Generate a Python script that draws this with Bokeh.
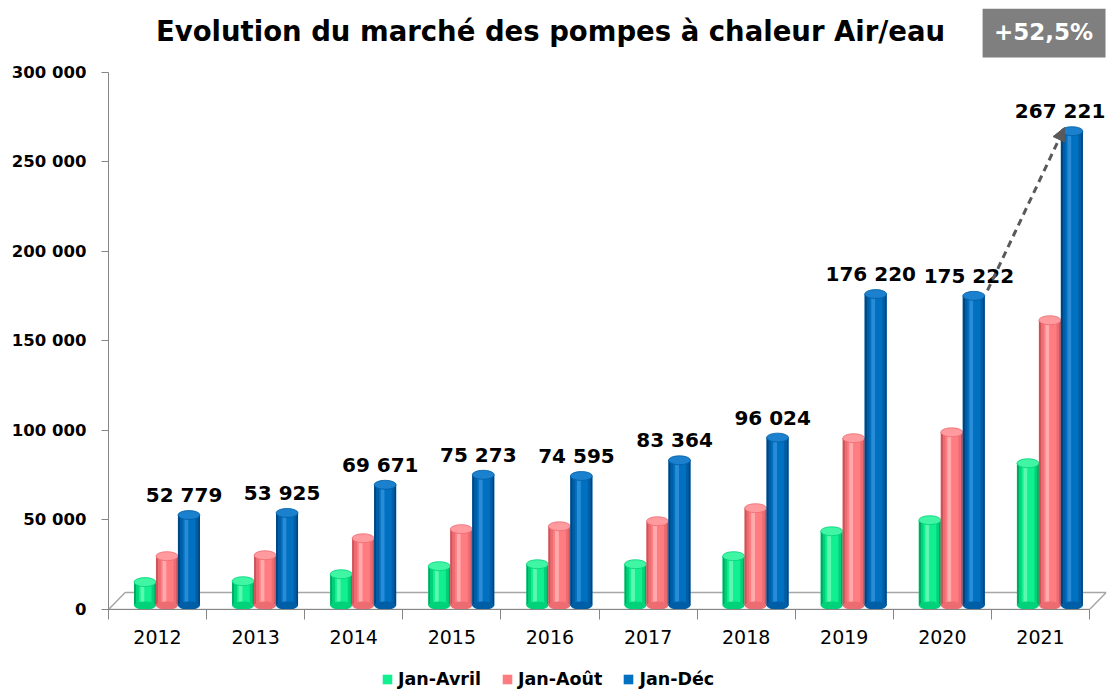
from bokeh.plotting import figure
from bokeh.layouts import column
from bokeh.models import (ColumnDataSource, FixedTicker, Range1d, Legend, LegendItem,
                          Arrow, NormalHead, Label)
from bokeh.transform import dodge
from bokeh.core.properties import value
from bokeh.embed import file_html
from bokeh.resources import INLINE

# ---------------- data ----------------
years = ["2012", "2013", "2014", "2015", "2016", "2017", "2018", "2019", "2020", "2021"]
jan_avril = [15300, 15800, 19700, 24200, 25300, 25300, 29800, 43700, 49900, 81700]
jan_aout = [29800, 30300, 39800, 44900, 46500, 49300, 56600, 95700, 99000, 161600]
jan_dec = [52779, 53925, 69671, 75273, 74595, 83364, 96024, 176220, 175222, 267221]
series_names = ["Jan-Avril", "Jan-Août", "Jan-Déc"]
y_ticks = [0, 50000, 100000, 150000, 200000, 250000, 300000]
title_text = "Evolution du marché des pompes à chaleur Air/eau"

def fmt(v):
    return f"{v:,}".replace(",", " ")

growth = jan_dec[-1] / jan_dec[-2] - 1
growth_text = ("+%.1f%%" % (growth * 100)).replace(".", ",")

# ---------------- styling ----------------
FONT = "DejaVu Sans"
bar_w = 0.224
offsets = [-0.128, 0.096, 0.32]
base = 2200
palettes = [
    # edge dark, mid, highlight, main, top
    ("#00a862", "#00d27a", "#5cf7b0", "#12ef90", "#40f5a4"),
    ("#c9545a", "#ec6c71", "#ffaaad", "#ff7c80", "#ff9a9e"),
    ("#00457f", "#005ea6", "#2a8bd6", "#0070c0", "#1b80cd"),
]
bands = [(0.0, 0.10, 0), (0.10, 0.22, 1), (0.22, 0.30, 3), (0.30, 0.48, 2),
         (0.48, 0.80, 3), (0.80, 0.92, 1), (0.92, 1.0, 0)]

n = len(years)
centers = [i + 0.5 for i in range(n)]

p = figure(frame_width=998, frame_height=601, min_border_left=108, min_border_right=8,
           min_border_top=8, min_border_bottom=50,
           x_range=Range1d(0, 10.173), y_range=Range1d(0, 335754),
           output_backend="svg", toolbar_location=None, title=None)
p.outline_line_color = None
p.grid.visible = False
p.background_fill_color = "white"

# floor
p.patch([0, 0.17, 10.17, 10], [0, 9500, 9500, 0], fill_color="white",
        line_color="#a6a6a6", line_width=1.5)

src = ColumnDataSource(dict(x=centers, avril=jan_avril, aout=jan_aout, dec=jan_dec,
                            base=[base] * n))
fields = ["avril", "aout", "dec"]
for k, field in enumerate(fields):
    edge, mid, hi, main, top = palettes[k]
    cols = [edge, mid, hi, main]
    p.vbar(x=dodge("x", offsets[k], range=p.x_range), top=field, bottom="base",
           width=bar_w, source=src, fill_color=main, line_color=None)
    for (a, b, ci) in bands:
        c = (a + b) / 2 - 0.5
        p.vbar(x=dodge("x", offsets[k] + c * bar_w, range=p.x_range), top=field,
               bottom="base", width=(b - a) * bar_w, source=src,
               fill_color=cols[ci], line_color=None)
    p.ellipse(x=dodge("x", offsets[k], range=p.x_range), y="base", width=bar_w,
              height=8, height_units="screen", source=src, fill_color=mid,
              line_color=None)
    p.ellipse(x=dodge("x", offsets[k], range=p.x_range), y=field, width=bar_w,
              height=9, height_units="screen", source=src, fill_color=top,
              line_color=mid, line_width=0.8)

# value labels above the Jan-Déc bars
label_x = [c + offsets[2] - 0.05 for c in centers]
label_x[-1] -= 0.07  # keep the last label inside the frame
lbl_src = ColumnDataSource(dict(x=label_x, y=jan_dec, t=[fmt(v) for v in jan_dec]))
p.text(x="x", y="y", text="t", source=lbl_src, text_font=value(FONT),
       text_font_style="bold", text_font_size="20px", text_align="center",
       text_baseline="bottom", y_offset=-8, text_color="black")

# dashed growth arrow from 2020 to 2021
p.add_layout(Arrow(end=NormalHead(size=13, fill_color="#595959", line_color="#595959"),
                   x_start=centers[8] + offsets[2] + 0.14, y_start=jan_dec[8] + 3000,
                   x_end=centers[9] + offsets[2] - 0.075, y_end=jan_dec[9] + 2000,
                   line_color="#595959", line_width=3, line_dash="7 5"))

# growth box
p.quad(left=8.91, right=10.163, bottom=308400, top=335754, fill_color="#7f7f7f",
       line_color=None)
p.add_layout(Label(x=9.531, y=322900, text=growth_text, text_font=FONT,
                   text_font_style="bold", text_font_size="23px", text_color="white",
                   text_align="center", text_baseline="middle"))

# title
p.add_layout(Label(x=4.506, y=323400, text=title_text, text_font=FONT,
                   text_font_style="bold", text_font_size="27.5px", text_color="black",
                   text_align="center", text_baseline="middle"))

# y axis
yax = p.yaxis[0]
yax.ticker = FixedTicker(ticks=y_ticks)
yax.bounds = (0, 300000)
yax.major_label_overrides = {t: fmt(t) for t in y_ticks}
yax.major_label_text_font = FONT
yax.major_label_text_font_style = "bold"
yax.major_label_text_font_size = "16.5px"
yax.major_label_text_color = "black"
yax.axis_line_color = "#868686"
yax.major_tick_line_color = "#868686"
yax.major_tick_out = 7
yax.major_tick_in = 0
yax.minor_tick_line_color = None
yax.major_label_standoff = 15

# x axis
xax = p.xaxis[0]
xax.ticker = FixedTicker(ticks=centers, minor_ticks=list(range(n + 1)))
xax.bounds = (0, n)
xax.major_label_overrides = {c: y for c, y in zip(centers, years)}
xax.major_label_text_font = FONT
xax.major_label_text_font_size = "19px"
xax.major_label_text_color = "black"
xax.major_tick_line_color = None
xax.major_tick_out = 0
xax.minor_tick_line_color = "#868686"
xax.minor_tick_out = 10
xax.minor_tick_in = 0
xax.axis_line_color = "#868686"
xax.major_label_standoff = 10

# ---------------- legend strip below the chart ----------------
lg = figure(frame_width=998, frame_height=30, x_range=Range1d(0, 1), y_range=Range1d(0, 1),
            x_axis_type=None, y_axis_type=None,
            min_border_left=108, min_border_right=8, min_border_top=0, min_border_bottom=0,
            output_backend="svg", toolbar_location=None, title=None)
lg.grid.visible = False
lg.outline_line_color = None
swatches = []
for k in range(3):
    # zero-size renderers: they only provide the legend swatches
    swatches.append(lg.vbar(x=[0.5], bottom=[0.5], top=[0.5], width=0,
                            fill_color=palettes[k][3], line_color=None))
legend = Legend(items=[LegendItem(label=s, renderers=[r]) for s, r in zip(series_names, swatches)],
                orientation="horizontal", location=(273, 0), border_line_color=None,
                background_fill_alpha=0, label_text_font=FONT, label_text_font_style="bold",
                label_text_font_size="17.5px", label_text_color="black",
                glyph_width=12, glyph_height=12, spacing=20,
                padding=0, margin=0, label_standoff=5, label_height=16)
lg.add_layout(legend, "center")

layout = column(p, lg, spacing=0)
open("out.html", "w").write(file_html(layout, INLINE))
